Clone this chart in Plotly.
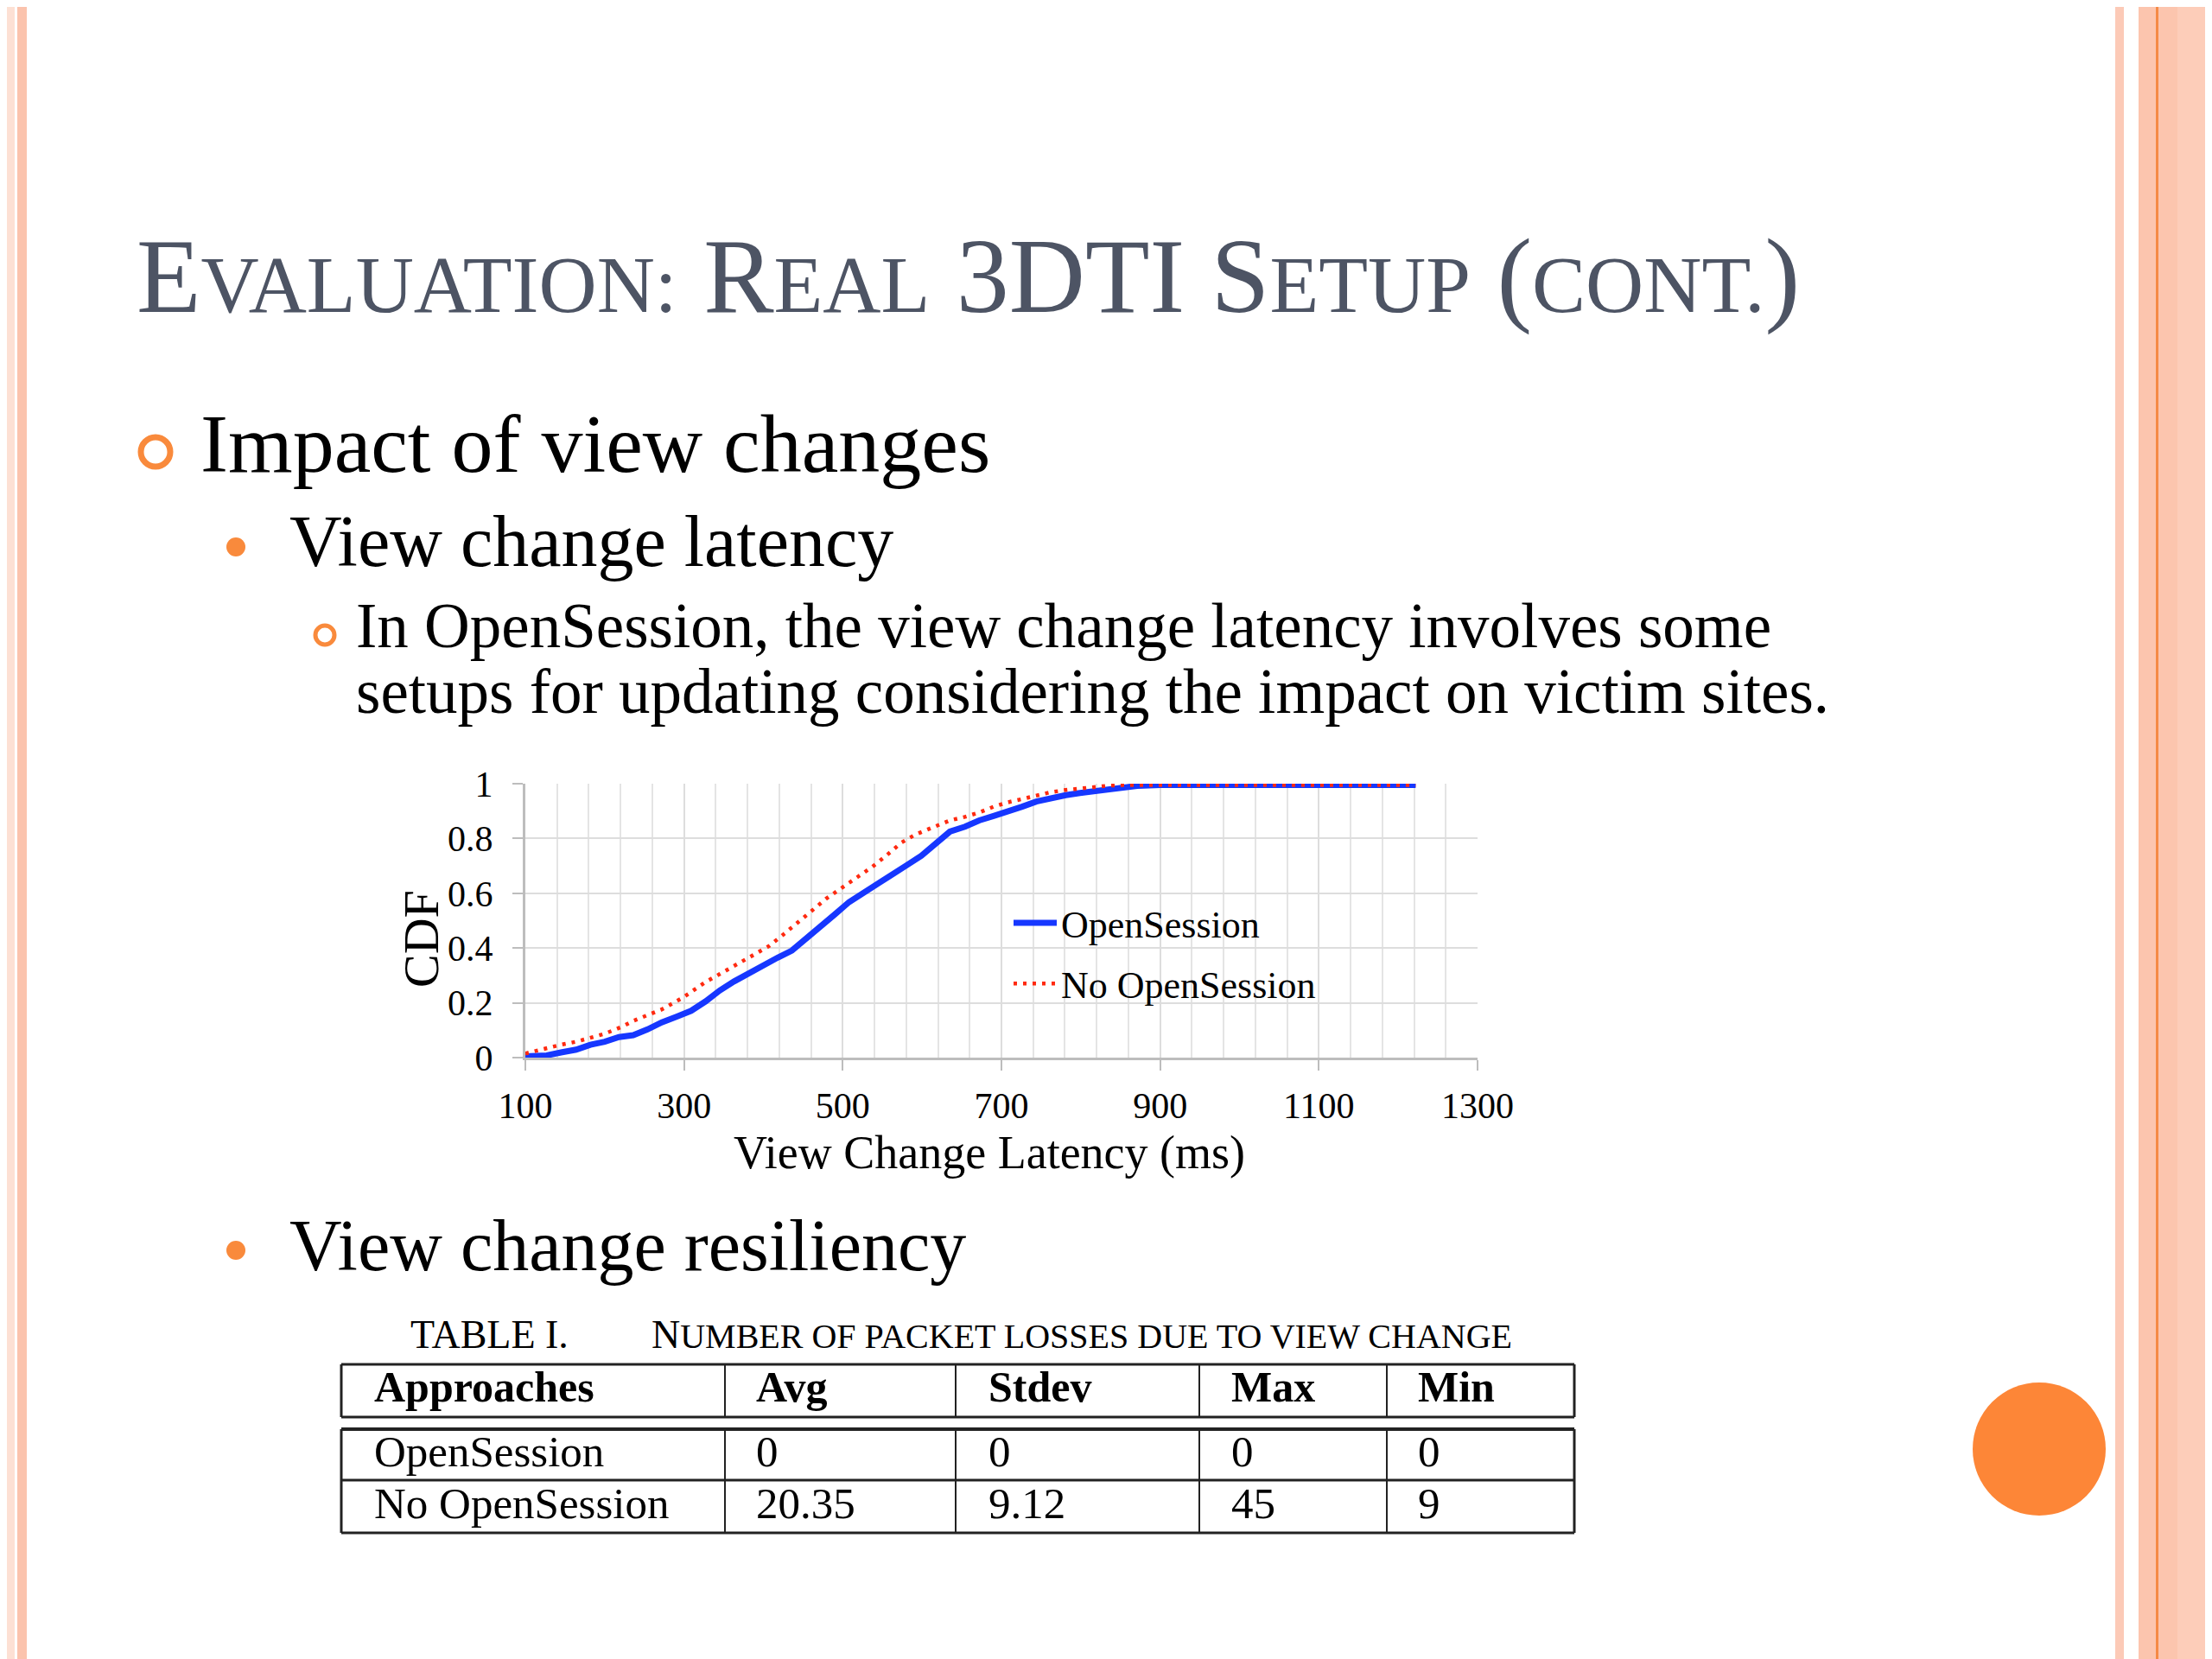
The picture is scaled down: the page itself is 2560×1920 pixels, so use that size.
import plotly.graph_objects as go

# page is drawn 8px in from the window corner (body margin), so the figure covers 8..2560 x 8..1920
OFF = 8
W, H = 2560 - OFF, 1920 - OFF

# ---------------- data ----------------
open_x = [100, 127, 145, 164, 182, 200, 218, 236, 254, 272, 291, 309, 327, 345, 363, 381, 399, 418,
          436, 454, 472, 490, 508, 526, 545, 563, 581, 599, 617, 635, 654, 672, 690, 708, 726, 744,
          762, 781, 799, 817, 835, 853, 871, 900, 1000, 1100, 1222]
open_y = [0.005, 0.008, 0.019, 0.029, 0.047, 0.058, 0.075, 0.082, 0.103, 0.129, 0.150, 0.171, 0.205,
          0.245, 0.278, 0.307, 0.339, 0.365, 0.391, 0.433, 0.481, 0.523, 0.568, 0.600, 0.637, 0.670,
          0.703, 0.737, 0.782, 0.825, 0.843, 0.866, 0.882, 0.897, 0.916, 0.935, 0.948, 0.958, 0.966,
          0.973, 0.979, 0.987, 0.992, 0.995, 0.995, 0.995, 0.995]

noopen_x = [100, 127, 145, 164, 185, 200, 222, 236, 254, 272, 298, 316, 327, 345, 367, 385, 407, 425,
            443, 461, 479, 497, 517, 537, 555, 574, 592, 614, 635, 654, 672, 690, 708, 726, 744, 762,
            781, 799, 817, 835, 853, 900, 1000, 1100, 1222]
noopen_y = [0.015, 0.035, 0.047, 0.058, 0.075, 0.087, 0.113, 0.134, 0.155, 0.176, 0.218, 0.253, 0.276,
            0.305, 0.341, 0.370, 0.407, 0.449, 0.491, 0.536, 0.580, 0.617, 0.654, 0.696, 0.738, 0.785,
            0.815, 0.842, 0.866, 0.879, 0.895, 0.916, 0.932, 0.944, 0.958, 0.969, 0.977, 0.983, 0.990,
            0.993, 0.995, 0.995, 0.995, 0.995, 0.995]

series_names = ["OpenSession", "No OpenSession"]
x_ticks = [100, 300, 500, 700, 900, 1100, 1300]
y_ticks = [0, 0.2, 0.4, 0.6, 0.8, 1]
y_tick_labels = ["0", "0.2", "0.4", "0.6", "0.8", "1"]

table_header = ["Approaches", "Avg", "Stdev", "Max", "Min"]
table_rows = [["OpenSession", "0", "0", "0", "0"],
              ["No OpenSession", "20.35", "9.12", "45", "9"]]

# ---------------- helpers (window pixels -> paper) ----------------
def px(x):
    return (x - OFF) / W

def py(y):
    return 1 - (y - OFF) / H

SERIF = "Liberation Serif"
ORANGE = "#f98a3c"

fig = go.Figure()
fig.add_trace(go.Scatter(x=open_x, y=open_y, mode="lines", name=series_names[0],
                         line=dict(color="#1637ff", width=7), legendgroup="a"))
fig.add_trace(go.Scatter(x=noopen_x, y=noopen_y, mode="lines", name=series_names[1],
                         line=dict(color="#ff2a10", width=4.5, dash="4px,7px"), legendgroup="b"))

x0, x1 = 608, 1710
y0, y1 = 907, 1224

fig.update_layout(
    width=W, height=H,
    margin=dict(l=0, r=0, t=0, b=0, pad=0, autoexpand=False),
    paper_bgcolor="white", plot_bgcolor="white",
    showlegend=True,
    legend=dict(x=px(1168), y=py(1033), xanchor="left", yanchor="top",
                font=dict(family=SERIF, size=44, color="black"),
                bgcolor="rgba(0,0,0,0)", itemwidth=50, tracegroupgap=10),
    xaxis=dict(domain=[px(x0), px(x1)], range=[100, 1300], tickmode="array", tickvals=x_ticks,
               ticktext=[str(v) for v in x_ticks], automargin=False,
               showgrid=True, gridcolor="#dddddd", gridwidth=2,
               minor=dict(dtick=40, tick0=100, showgrid=True, gridcolor="#e4e4e4", gridwidth=2),
               showline=True, linecolor="#bdbdbd", linewidth=3,
               ticks="outside", ticklen=12, tickwidth=2, tickcolor="#bdbdbd",
               ticklabelstandoff=5,
               tickfont=dict(family=SERIF, size=42, color="black"), zeroline=False, fixedrange=True),
    yaxis=dict(domain=[py(y1), py(y0)], range=[0, 1], tickmode="array", tickvals=y_ticks,
               ticktext=y_tick_labels, automargin=False,
               showgrid=True, gridcolor="#dddddd", gridwidth=2,
               showline=True, linecolor="#bdbdbd", linewidth=3,
               ticks="outside", ticklen=12, tickwidth=2, tickcolor="#bdbdbd",
               ticklabelstandoff=14,
               tickfont=dict(family=SERIF, size=42, color="black"), zeroline=False, fixedrange=True),
)

ann = []
def text(x, y, s, size, family=SERIF, color="black", anchor="left"):
    ann.append(dict(x=px(x), y=py(y), xref="paper", yref="paper", text=s, showarrow=False,
                    xanchor=anchor, yanchor="middle", font=dict(family=family, size=size, color=color)))

# axis titles
text(1145, 1334, "View Change Latency (ms)", 54, anchor="center")
ann.append(dict(x=px(487), y=py(1087), xref="paper", yref="paper", text="CDF", showarrow=False,
                textangle=-90, xanchor="center", yanchor="middle",
                font=dict(family=SERIF, size=58, color="black")))

# title (small caps)
S = 'font-size:93px'
title = ('E<span style="%s">VALUATION:</span> R<span style="%s">EAL</span> 3DTI '
         'S<span style="%s">ETUP</span> (<span style="%s">CONT.</span>)') % (S, S, S, S)
text(156, 320, title, 122, color="#4d5464")

# bullets
text(230, 513, "Impact of view changes", 96)
text(333, 626, "View change latency", 84)
text(410, 724, "In OpenSession, the view change latency involves some", 73)
text(410, 800, "setups for updating considering the impact on victim sites.", 73)
text(333, 1441, "View change resiliency", 84)

# table caption
SC = 'font-size:40px'
text(473, 1544, "TABLE I.", 46)
text(752, 1544, 'N<span style="%s">UMBER OF PACKET LOSSES DUE TO VIEW CHANGE</span>' % SC, 46)

# table text
col_x = [431, 873, 1142, 1423, 1639]
for cx, h in zip(col_x, table_header):
    text(cx, 1605, "<b>%s</b>" % h, 50)
for ry, row in zip([1680, 1740], table_rows):
    for cx, v in zip(col_x, row):
        text(cx, ry, v, 51)

fig.update_layout(annotations=ann)

shapes = []
def rect(xa, ya, xb, yb, fill):
    shapes.append(dict(type="rect", xref="paper", yref="paper", x0=px(xa), x1=px(xb), y0=py(ya), y1=py(yb),
                       fillcolor=fill, line=dict(width=0), layer="below"))

def line(xa, ya, xb, yb, color="#222222", w=3):
    shapes.append(dict(type="line", xref="paper", yref="paper", x0=px(xa), x1=px(xb), y0=py(ya), y1=py(yb),
                       line=dict(color=color, width=w)))

def circle(cx, cy, r, fill=None, line_c=None, lw=0):
    shapes.append(dict(type="circle", xref="paper", yref="paper", x0=px(cx - r), x1=px(cx + r),
                       y0=py(cy + r), y1=py(cy - r),
                       fillcolor=fill if fill else "rgba(0,0,0,0)",
                       line=dict(color=line_c if line_c else "rgba(0,0,0,0)", width=lw)))

# borders
rect(8, 0, 17, H + OFF, "#fde0d4")
rect(20, 0, 31, H + OFF, "#fbc3ad")
rect(2448, 0, 2458, H + OFF, "#fccab7")
rect(2475, 0, 2520, H + OFF, "#fcc5ae")
rect(2495, 0, 2498, H + OFF, "#f58a45")
rect(2520, 0, 2560, H + OFF, "#fdcdb9")

# bullet markers
circle(180, 523, 17, None, ORANGE, 7)
circle(273, 633, 11, ORANGE, ORANGE, 0)
circle(376, 735, 11, None, ORANGE, 5)
circle(273, 1447, 11, ORANGE, ORANGE, 0)
# decorative orange circle
circle(2360, 1677, 77, "#fd8637", "#fd8637", 0)

# table borders
tl, tr = 395, 1822
col_lines = [839, 1106, 1388, 1605]
line(tl, 1579, tr, 1579, w=3)
line(tl, 1640, tr, 1640, w=3)
line(tl, 1579, tl, 1640, w=3)
line(tr, 1579, tr, 1640, w=3)
line(tl, 1654, tr, 1654, w=4)
line(tl, 1713, tr, 1713, w=3)
line(tl, 1774, tr, 1774, w=3)
line(tl, 1654, tl, 1774, w=3)
line(tr, 1654, tr, 1774, w=3)
for cxl in col_lines:
    line(cxl, 1579, cxl, 1640, w=2)
    line(cxl, 1654, cxl, 1774, w=2)

fig.update_layout(shapes=shapes)

fig.write_html("out.html")
